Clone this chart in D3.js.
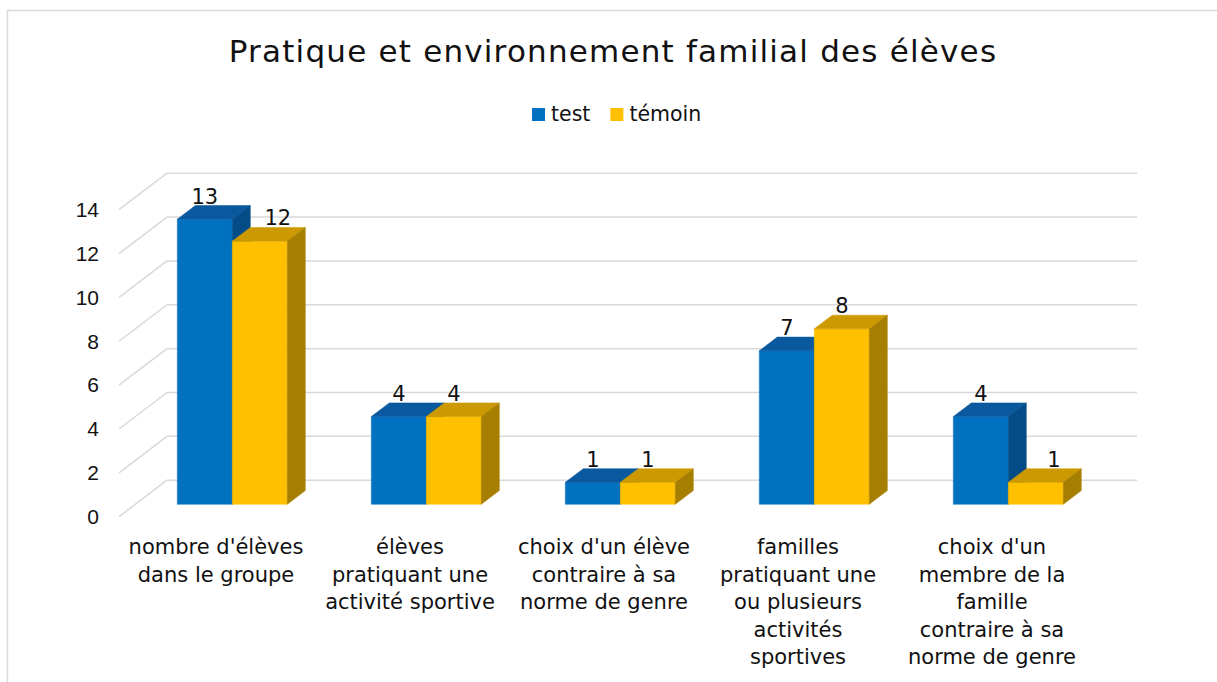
<!DOCTYPE html>
<meta charset="utf-8">
<style>
body { margin: 0; background: #fff; }
svg { font-family: "DejaVu Sans", sans-serif; }
.grid line { stroke: #d9d9d9; stroke-width: 1.5px; }
.tick text { fill: #111; font-size: 21px; }
.cat text { fill: #111; font-size: 21px; }
.vlabel { fill: #111; font-size: 21px; }
</style>
<svg width="1217" height="682"></svg>
<script src="https://d3js.org/d3.v7.min.js"></script>
<script>
var categories = [
  "nombre d'élèves\ndans le groupe",
  "élèves\npratiquant une\nactivité sportive",
  "choix d'un élève\ncontraire à sa\nnorme de genre",
  "familles\npratiquant une\nou plusieurs\nactivités\nsportives",
  "choix d'un\nmembre de la\nfamille\ncontraire à sa\nnorme de genre"
];
var series = ["test", "témoin"];
var testValues = [13, 4, 1, 7, 4];
var temoinValues = [12, 4, 1, 8, 1];
var yTicks = [0, 2, 4, 6, 8, 10, 12, 14];

var svg = d3.select("svg"),
    width = +svg.attr("width"),
    height = +svg.attr("height");

// oblique "3d" : depth vector of the whole floor, bars sit between d1 and d2
var DX = 48, DY = -36.5, d1 = 0.34, d2 = 0.715;

var colors = {
  "test":   { front: "#0070c0", top: "#0a589e", side: "#034c88" },
  "témoin": { front: "#ffc000", top: "#cc9a00", side: "#a77f00" }
};

svg.append("rect")
    .attr("x", 7.5).attr("y", 10.5)
    .attr("width", width + 20).attr("height", height + 20)
    .attr("fill", "#fff").attr("stroke", "#d9d9d9").attr("stroke-width", 1.5);

svg.append("text")
    .attr("x", 613).attr("y", 62)
    .attr("text-anchor", "middle")
    .style("font-size", "31px")
    .style("letter-spacing", "1.2px")
    .attr("fill", "#111")
    .text("Pratique et environnement familial des élèves");

// legend
var leg = svg.append("g").attr("transform", "translate(532,114)");
var lx = 0;
series.forEach(function(s) {
  var g = leg.append("g").attr("transform", "translate(" + lx + ",0)");
  g.append("rect").attr("x", 0).attr("y", -6).attr("width", 13).attr("height", 13)
      .attr("fill", colors[s].front);
  var t = g.append("text").attr("x", 19).attr("dy", "0.35em")
      .style("font-size", "20.5px").attr("fill", "#111").text(s);
  lx += 19 + t.node().getComputedTextLength() + 20;
});

var y = d3.scaleLinear().domain([0, 14]).range([516.7, 209.7]);
var x = d3.scaleBand().domain(categories).range([119, 1089]);
var bw = x.bandwidth(), gw = bw * 0.567;
var xs = d3.scaleBand().domain(series).range([(bw - gw) / 2, (bw + gw) / 2]);

// back wall gridlines
var grid = svg.append("g").attr("class", "grid");
grid.selectAll(".back").data(yTicks).enter().append("line")
    .attr("x1", 119 + DX).attr("x2", 1089 + DX)
    .attr("y1", function(d) { return y(d) + DY; })
    .attr("y2", function(d) { return y(d) + DY; });
// side wall
grid.selectAll(".side").data(yTicks).enter().append("line")
    .attr("x1", 119).attr("x2", 119 + DX)
    .attr("y1", function(d) { return y(d); })
    .attr("y2", function(d) { return y(d) + DY; });

svg.append("g")
    .attr("transform", "translate(119,0)")
    .call(d3.axisLeft(y).tickValues(yTicks).tickSize(0).tickPadding(20))
    .call(function(g) { g.select(".domain").remove(); });

// bars
var rows = categories.map(function(c, i) {
  return { cat: c, vals: [ { s: "test", v: testValues[i] }, { s: "témoin", v: temoinValues[i] } ] };
});
var ddx = (d2 - d1) * DX, ddy = (d2 - d1) * DY;
var bars = svg.append("g");
rows.forEach(function(r) {
  r.vals.forEach(function(b, j) {
    var x0 = x(r.cat) + xs(b.s) + d1 * DX, x1 = x0 + xs.bandwidth();
    var yb = y(0) + d1 * DY, yt = y(b.v) + d1 * DY;
    var c = colors[b.s];
    var g = bars.append("g");
    g.append("path").attr("fill", c.front).attr("stroke", c.front).attr("stroke-width", 0.5)
        .attr("d", "M" + x0 + "," + yt + "H" + x1 + "V" + yb + "H" + x0 + "Z");
    g.append("path").attr("fill", c.top).attr("stroke", c.top).attr("stroke-width", 0.5)
        .attr("d", "M" + x0 + "," + yt + "L" + x1 + "," + yt + "L" + (x1 + ddx) + "," + (yt + ddy) +
              "L" + (x0 + ddx) + "," + (yt + ddy) + "Z");
    g.append("path").attr("fill", c.side).attr("stroke", c.side).attr("stroke-width", 0.5)
        .attr("d", "M" + x1 + "," + yt + "L" + (x1 + ddx) + "," + (yt + ddy) + "L" + (x1 + ddx) + "," + (yb + ddy) +
              "L" + x1 + "," + yb + "Z");
    var nudge = (j === 1 && b.v < r.vals[0].v) ? ddx : 0;
    bars.append("text").attr("class", "vlabel")
        .attr("x", (x0 + x1) / 2 + nudge).attr("y", yt - 23)
        .attr("dy", "0.35em").attr("text-anchor", "middle")
        .text(b.v);
  });
});

// category labels at front edge of the floor
var cat = svg.append("g").attr("class", "cat");
categories.forEach(function(c) {
  var t = cat.append("text").attr("text-anchor", "middle")
      .attr("transform", "translate(" + (x(c) + bw / 2) + ",547)");
  c.split("\n").forEach(function(line, k) {
    t.append("tspan").attr("x", 0).attr("y", k * 27.5).attr("dy", "0.35em").text(line);
  });
});
</script>
